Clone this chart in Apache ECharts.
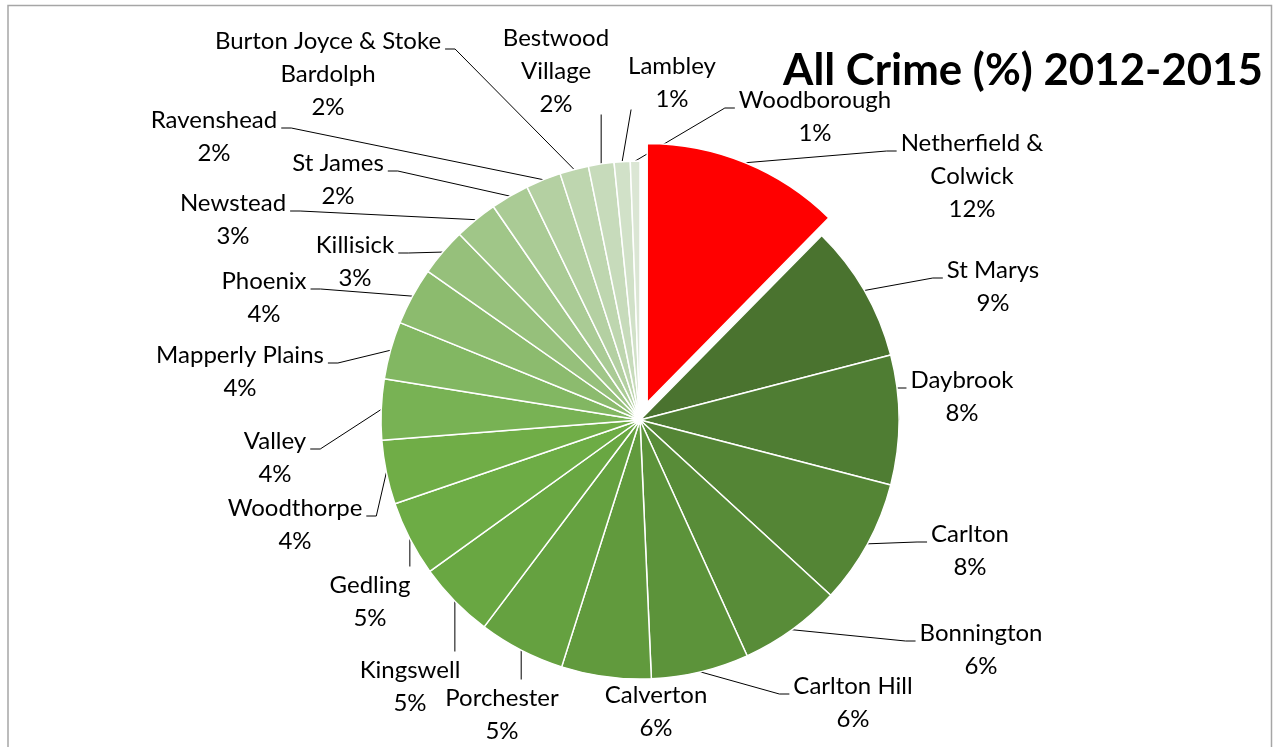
<!DOCTYPE html>
<html>
<head>
<meta charset="utf-8">
<script src="https://cdn.jsdelivr.net/npm/echarts@6/dist/echarts.min.js"></script>
<style>
  html, body { margin: 0; padding: 0; background: #ffffff; }
  #chart { width: 1274px; height: 747px; }
</style>
</head>
<body>
<div id="chart"></div>
<script>
const categories = [
  "Netherfield & Colwick", "St Marys", "Daybrook", "Carlton", "Bonnington",
  "Carlton Hill", "Calverton", "Porchester", "Kingswell", "Gedling",
  "Woodthorpe", "Valley", "Mapperly Plains", "Phoenix", "Killisick",
  "Newstead", "St James", "Ravenshead", "Burton Joyce & Stoke Bardolph",
  "Bestwood Village", "Lambley", "Woodborough"
];
const labelNames = [
  "Netherfield &\nColwick", "St Marys", "Daybrook", "Carlton", "Bonnington",
  "Carlton Hill", "Calverton", "Porchester", "Kingswell", "Gedling",
  "Woodthorpe", "Valley", "Mapperly Plains", "Phoenix", "Killisick",
  "Newstead", "St James", "Ravenshead", "Burton Joyce & Stoke\nBardolph",
  "Bestwood\nVillage", "Lambley", "Woodborough"
];
const values = [
  12.4, 8.6, 8.1, 7.8, 6.4,
  6.1, 5.6, 5.4, 4.8, 4.7,
  4.0, 3.8, 3.6, 3.6, 3.0,
  2.7, 2.4, 2.2, 1.8, 1.6,
  1.0, 0.6
];
const colors = [
  "#FF0000", "#4A732F", "#4F7D33", "#548535", "#588C38",
  "#5C933A", "#619A3D", "#65A140", "#69A742", "#6DAC45",
  "#70AD47", "#78B254", "#82B762", "#8CBB6E", "#96C07B",
  "#A0C688", "#AACB95", "#B4D0A2", "#BED6AF", "#C7DBBB",
  "#D1E1C8", "#DBE6D4"
];
const explodedIndex = 0;
const titleText = "All Crime (%) 2012-2015";

// Label placement (centre x, first-line centre y) as in the reference layout
const labelPos = [
  [972, 143], [993, 270], [962, 380], [970, 534], [981, 633],
  [853, 686], [656, 695], [502, 698], [410, 670], [370, 585],
  [295, 508], [275, 441], [240, 355], [264, 281], [355, 245],
  [233, 203], [338, 163], [214, 120], [328, 41], [556, 38],
  [672, 66], [815, 100]
];
const LH = 33;
const FS = 24;
const CENTER = [640, 420];
const RADIUS = 259;
const EXPLODE = 19;

const chart = echarts.init(document.getElementById('chart'), null, { renderer: 'canvas' });

function labelText(i) {
  return labelNames[i].split('\n').map(s => '{a|' + s + '}').join('\n') + '\n{a|' + Math.round(values[i]) + '%}';
}

function makeData(showIdx) {
  return categories.map((c, i) => {
    const on = showIdx(i);
    return {
      name: c,
      value: values[i],
      itemStyle: on ? { color: colors[i], borderColor: '#ffffff', borderWidth: 1.5 }
                    : { color: 'rgba(0,0,0,0)', borderWidth: 0 },
      label: on ? { show: true, formatter: () => labelText(i) } : { show: false },
      labelLine: { show: on }
    };
  });
}

function layoutLabel(params) {
  const i = params.dataIndex;
  const p = labelPos[i];
  const w = params.labelRect.width;
  const h = params.labelRect.height;
  const top = p[1] - LH / 2;
  const left = p[0] - w / 2, right = p[0] + w / 2, bottom = top + h;
  const pts = params.labelLinePoints;
  const S = pts ? pts[0] : [p[0], top];
  let line;
  if (S[1] < top && S[0] > left - 20 && S[0] < right + 20) {
    const e = [S[0], top - 2];
    line = [S, e, e];
  } else if (S[1] > bottom && S[0] > left - 20 && S[0] < right + 20) {
    const ex = Math.min(Math.max(S[0], left + 3), right - 3);
    const e = [ex, bottom - 6];
    line = [S, e, e];
  } else if (p[0] > S[0]) {
    const e = [left - 4, p[1] + 8];
    line = [S, [e[0] - 10, e[1]], e];
  } else {
    const e = [right + 4, p[1] + 8];
    line = [S, [e[0] + 10, e[1]], e];
  }
  return {
    x: p[0],
    y: top,
    align: 'center',
    verticalAlign: 'top',
    labelLinePoints: line,
    hideOverlap: false
  };
}

// exploded slice offset along its bisector
const total = values.reduce((a, b) => a + b, 0);
let before = 0;
for (let k = 0; k < explodedIndex; k++) before += values[k];
const midAng = (before + values[explodedIndex] / 2) / total * 2 * Math.PI;
const explodedCenter = [CENTER[0] + EXPLODE * Math.sin(midAng), CENTER[1] - EXPLODE * Math.cos(midAng)];

const baseSeries = {
  type: 'pie',
  radius: [0, RADIUS],
  startAngle: 90,
  clockwise: true,
  avoidLabelOverlap: false,
  label: {
    position: 'outside',
    fontFamily: 'Lato',
    fontSize: FS,
    color: '#000000',
    lineHeight: LH,
    rich: { a: { align: 'center', fontFamily: 'Lato', fontSize: FS, lineHeight: LH, color: '#000000' } }
  },
  labelLine: {
    length: 20,
    length2: 15,
    lineStyle: { color: '#000000', width: 1 }
  },
  labelLayout: layoutLabel,
  emphasis: { disabled: true },
  silent: true
};

chart.setOption({
  backgroundColor: '#ffffff',
  animation: false,
  title: {
    text: titleText,
    right: 6,
    top: 44,
    textStyle: { fontFamily: 'Lato', fontWeight: 'bold', fontSize: 43.8, color: '#000000' }
  },
  graphic: [{
    type: 'polyline',
    shape: { points: [[8, 760], [8, 5.5], [1271.5, 5.5], [1271.5, 760]] },
    style: { stroke: '#a6a6a6', lineWidth: 1.5, fill: null },
    silent: true
  }],
  series: [
    Object.assign({}, baseSeries, {
      name: 'main',
      center: CENTER,
      data: makeData(i => i !== explodedIndex)
    }),
    Object.assign({}, baseSeries, {
      name: 'exploded',
      center: explodedCenter,
      data: makeData(i => i === explodedIndex)
    })
  ]
});
</script>
</body>
</html>
